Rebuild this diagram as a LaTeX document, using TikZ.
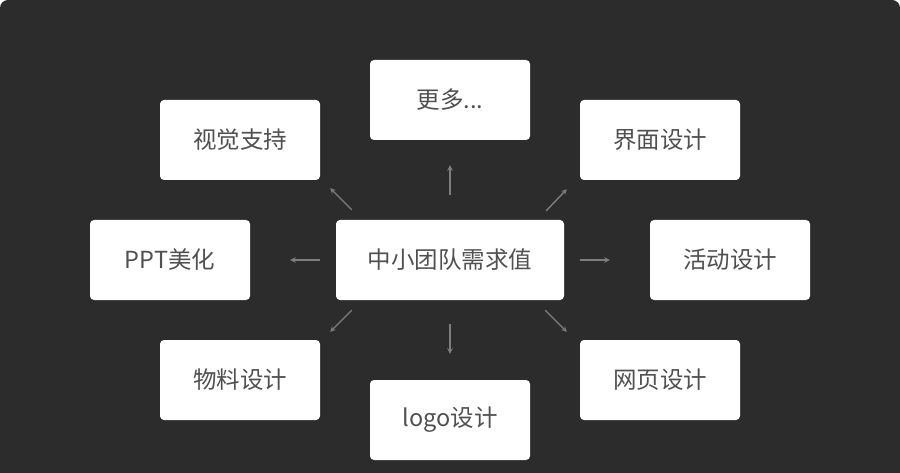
\documentclass[tikz,border=0pt]{standalone}
\usepackage{fontspec}
\setmainfont{Noto Sans CJK SC}
\usepackage{xcolor}
\usepackage{tikz}
\usetikzlibrary{arrows, positioning}
\definecolor{bgdark}{HTML}{2C2C2C}
\definecolor{txtgrey}{HTML}{505050}
\definecolor{arrowgrey}{HTML}{7E7E7E}
\tikzstyle{item} = [rectangle, rounded corners=4pt, minimum width=160pt, minimum height=80pt, inner sep=0pt, text centered, fill=white, text=txtgrey, font=\fontsize{23.5pt}{28pt}\selectfont]
\tikzstyle{hub} = [item, minimum width=228pt]
\tikzstyle{arrow} = [arrowgrey, line width=1.4pt, ->, >=stealth]

\begin{document}
\begin{tikzpicture}[x=1pt, y=-1pt]
\useasboundingbox (0,0) rectangle (900,473);
\fill [white] (0,0) rectangle (900,473);
\fill [bgdark, rounded corners=8pt] (0,0) rectangle (900,490);

\node (center) [hub] at (450,260) {中小团队需求值};
\node (more) [item] at (450,100) {更多...};
\node (visual) [item] at (240,140) {视觉支持};
\node (ui) [item] at (660,140) {界面设计};
\node (ppt) [item] at (170,260) {PPT美化};
\node (event) [item] at (730,260) {活动设计};
\node (material) [item] at (240,380) {物料设计};
\node (web) [item] at (660,380) {网页设计};
\node (logo) [item] at (450,420) {logo设计};

\draw [arrow, shorten <=25pt, shorten >=25pt] (center) -- (more);
\draw [arrow, shorten <=16pt, shorten >=40pt] (center) -- (ppt);
\draw [arrow, shorten <=16pt, shorten >=40pt] (center) -- (event);
\draw [arrow, shorten <=24pt, shorten >=26pt] (center) -- (logo);
\draw [arrow] ([shift={(16,-10)}]center.north west) -- ([shift={(10,8)}]visual.south east);
\draw [arrow] ([shift={(-18,-9)}]center.north east) -- ([shift={(-13,9)}]ui.south west);
\draw [arrow] ([shift={(16,10)}]center.south west) -- ([shift={(10,-8)}]material.north east);
\draw [arrow] ([shift={(-19,10)}]center.south east) -- ([shift={(-13,-8)}]web.north west);
\end{tikzpicture}
\end{document}
